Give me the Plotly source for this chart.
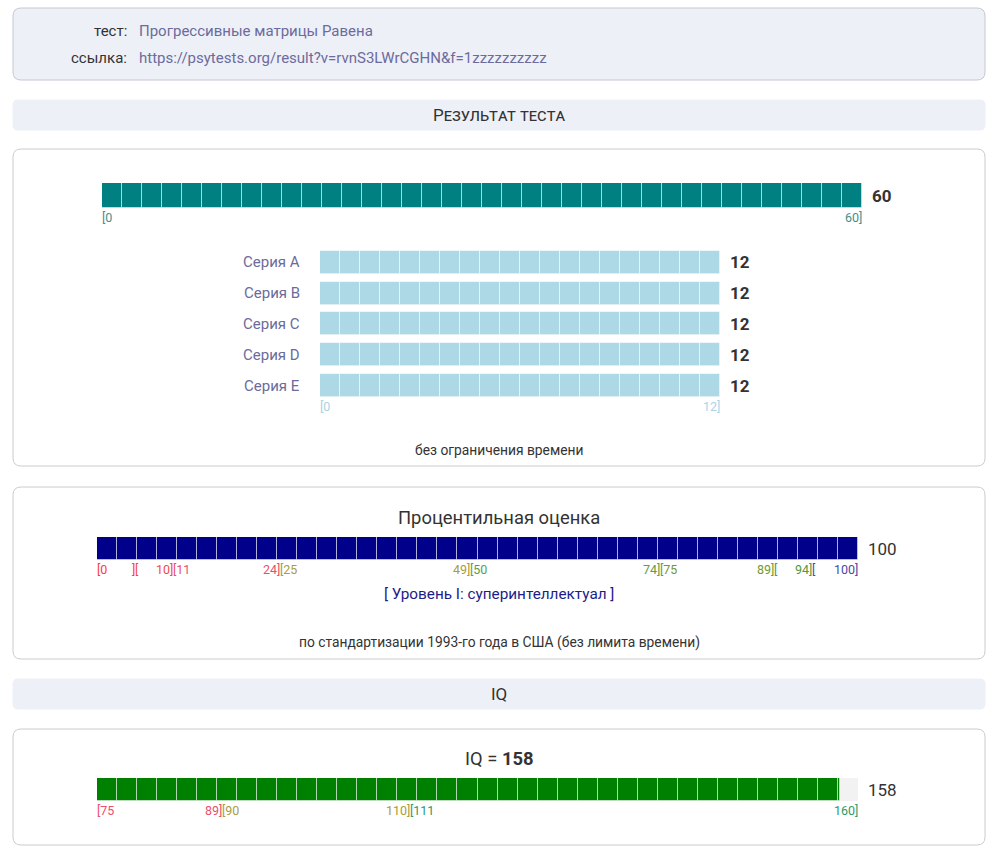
import numpy as np
import plotly.graph_objects as go

W, H = 1000, 861

# ---------------- data ----------------
test_name = "Прогрессивные матрицы Равена"
test_link = "https://psytests.org/result?v=rvnS3LWrCGHN&f=1zzzzzzzzzz"

total_score = 60
total_max = 60

series_names = ["Серия A", "Серия B", "Серия C", "Серия D", "Серия E"]
series_scores = [12, 12, 12, 12, 12]
series_max = 12

percentile = 100
pct_bounds = [0, 5, 10, 24, 49, 74, 89, 94, 100]
pct_left_labels = ["[0", "[", "[11", "[25", "[50", "[75", "[", "["]
pct_right_labels = ["]", "10]", "24]", "49]", "74]", "89]", "94]", "100]"]
pct_colors = ["#ff3b3b", "#f04a4a", "#e8506e", "#a89c3c", "#5a9e4a",
              "#6f9a2a", "#4e9a3a", "#4848a8"]
level_text = "[ Уровень I: суперинтеллектуал ]"

iq = 158
iq_bounds = [75, 89, 110, 160]
iq_left_labels = ["[75", "[90", "[111"]
iq_right_labels = ["89]", "110]", "160]"]
iq_colors = ["#e8506e", "#a89c3c", "#2e9a6a"]

# ---------------- helpers ----------------
FONT = "Roboto"
def px(x):
    return x / W
def py(y):
    return 1 - y / H

def rounded(x0, y0, x1, y1, r):
    X0, X1 = px(x0), px(x1)
    Y0, Y1 = py(y0), py(y1)
    rx, ry = r / W, r / H
    return (f"M {X0+rx},{Y0} L {X1-rx},{Y0} Q {X1},{Y0} {X1},{Y0-ry} "
            f"L {X1},{Y1+ry} Q {X1},{Y1} {X1-rx},{Y1} L {X0+rx},{Y1} "
            f"Q {X0},{Y1} {X0},{Y1+ry} L {X0},{Y0-ry} Q {X0},{Y0} {X0+rx},{Y0} Z")

fig = go.Figure()
shapes = []
ann = []

def panel(y0, y1, fill, line, r=8):
    shapes.append(dict(type="path", xref="paper", yref="paper",
                       path=rounded(13, y0, 985, y1, r),
                       fillcolor=fill, line=dict(color=line, width=1), layer="below"))

def text(x, y, s, size=14, color="#333333", xanchor="center", weight="normal", variant="normal"):
    ann.append(dict(x=px(x), y=py(y), xref="paper", yref="paper", text=s,
                    showarrow=False, xanchor=xanchor, yanchor="middle",
                    font=dict(family=FONT, size=size, color=color, weight=weight, variant=variant)))

# panels
panel(8, 80, "#eef0f8", "#c6c8d2")
panel(100, 130, "#eef0f8", "#eef0f8", r=5)
panel(149, 466, "#ffffff", "#cccccc")
panel(487, 659, "#ffffff", "#cccccc")
panel(679, 709, "#eef0f8", "#eef0f8", r=5)
panel(729, 845, "#ffffff", "#cccccc")

text(129, 31, "тест:", 15, "#333333", "right")
text(129, 58, "ссылка:", 15, "#333333", "right")
text(137, 31, test_name, 15, "#6b6b9c", "left")
text(137, 58, test_link, 15, "#6b6b9c", "left")
text(499, 115, "Результат теста", 17, "#333333", variant="small-caps")
text(499, 694, "IQ", 17, "#333333", variant="small-caps")
text(499, 450, "без ограничения времени", 13.8, "#333333")
text(499, 642, "по стандартизации 1993-го года в США (без лимита времени)", 13.8, "#333333")
text(499, 517, "Процентильная оценка", 18.4, "#333333")
text(499, 594, level_text, 15.3, "#1c1c8a")
text(499, 758, "IQ = <b>%d</b>" % iq, 18.4, "#333333")

CELL_LINE = dict(color="rgba(255,255,255,0.5)", width=1)
TICK_SIZE = 12.5

def cells(lo, hi, value, ncell):
    step = (hi - lo) / ncell
    starts = np.arange(lo, value - 1e-9, step)
    widths = np.minimum(step, value - starts)
    return starts, widths

def range_labels(xr, yr, ybottom, positions, lefts, rights, colors):
    for i in range(len(lefts)):
        ann.append(dict(x=positions[i], y=ybottom, xref=xr, yref=yr, text=lefts[i],
                        showarrow=False, xanchor="left", yanchor="top", xshift=-2, yshift=0,
                        font=dict(family=FONT, size=TICK_SIZE, color=colors[i])))
        ann.append(dict(x=positions[i + 1], y=ybottom, xref=xr, yref=yr, text=rights[i],
                        showarrow=False, xanchor="right", yanchor="top", xshift=2, yshift=0,
                        font=dict(family=FONT, size=TICK_SIZE, color=colors[i])))

def add_bar(idx, x0, x1, y0, y1, lo, hi, value, color, ncell=38):
    xa = "xaxis" if idx == 1 else f"xaxis{idx}"
    ya = "yaxis" if idx == 1 else f"yaxis{idx}"
    xr = "x" if idx == 1 else f"x{idx}"
    yr = "y" if idx == 1 else f"y{idx}"
    fig.add_trace(go.Bar(x=[hi - lo], base=[lo], y=[0], orientation="h", width=1,
                         marker=dict(color="#f2f2f2", line=dict(width=0)),
                         xaxis=xr, yaxis=yr, hoverinfo="skip", showlegend=False))
    s, w = cells(lo, hi, value, ncell)
    fig.add_trace(go.Bar(x=w, base=s, y=[0] * len(s), orientation="h", width=1,
                         marker=dict(color=color, line=CELL_LINE),
                         xaxis=xr, yaxis=yr, hoverinfo="skip", showlegend=False))
    fig.update_layout(**{
        xa: dict(domain=[px(x0), px(x1)], range=[lo, hi], visible=False, fixedrange=True, anchor=yr),
        ya: dict(domain=[py(y1), py(y0)], range=[-0.5, 0.5], visible=False, fixedrange=True, anchor=xr),
    })
    return xr, yr

# total bar
xr, yr = add_bar(1, 102, 862, 183, 208, 0, total_max, total_score, "#008080")
ann.append(dict(x=total_score, y=0, xref=xr, yref=yr, text="<b>%d</b>" % total_score,
                showarrow=False, xanchor="left", xshift=8, font=dict(family=FONT, size=17, color="#333333")))
range_labels(xr, yr, -0.5, [0, total_max], ["[0"], ["%d]" % total_max], ["#3f8f8f"])

# series bars
sx, sy = "x2", "y2"
for i, (name, val) in enumerate(zip(series_names, series_scores)):
    fig.add_trace(go.Bar(x=[series_max], base=[0], y=[name], orientation="h", width=0.75,
                         marker=dict(color="#f2f2f2", line=dict(width=0)),
                         xaxis=sx, yaxis=sy, hoverinfo="skip", showlegend=False))
    s, w = cells(0, series_max, val, 20)
    fig.add_trace(go.Bar(x=w, base=s, y=[name] * len(s), orientation="h", width=0.75,
                         marker=dict(color="#add8e6", line=CELL_LINE),
                         xaxis=sx, yaxis=sy, hoverinfo="skip", showlegend=False))
    ann.append(dict(x=0, y=name, xref=sx, yref=sy, text=name, showarrow=False, xanchor="right",
                    xshift=-18, font=dict(family=FONT, size=15, color="#6b6b9c")))
    ann.append(dict(x=series_max, y=name, xref=sx, yref=sy, text="<b>%d</b>" % val, showarrow=False,
                    xanchor="left", xshift=8, font=dict(family=FONT, size=17, color="#333333")))
fig.update_layout(
    xaxis2=dict(domain=[px(320), px(720)], range=[0, series_max], visible=False, fixedrange=True, anchor="y2"),
    yaxis2=dict(domain=[py(401), py(247.1)], type="category", categoryorder="array",
                categoryarray=series_names, range=[4.5, -0.5], visible=False, fixedrange=True, anchor="x2"),
)
range_labels(sx, sy, 4.375, [0, series_max], ["[0"], ["%d]" % series_max], ["#a8d4e8"])

# percentile bar
xr, yr = add_bar(3, 97, 858, 537, 560, 0, 100, percentile, "#00008b")
ann.append(dict(x=100, y=0, xref=xr, yref=yr, text="%d" % percentile, showarrow=False,
                xanchor="left", xshift=8, font=dict(family=FONT, size=17, color="#333333")))
range_labels(xr, yr, -0.5, pct_bounds, pct_left_labels, pct_right_labels, pct_colors)

# IQ bar
xr, yr = add_bar(4, 97, 858, 778, 801, iq_bounds[0], iq_bounds[-1], iq, "#008000")
ann.append(dict(x=iq_bounds[-1], y=0, xref=xr, yref=yr, text="%d" % iq, showarrow=False,
                xanchor="left", xshift=8, font=dict(family=FONT, size=17, color="#333333")))
range_labels(xr, yr, -0.5, iq_bounds, iq_left_labels, iq_right_labels, iq_colors)

fig.update_layout(
    width=W, height=H, margin=dict(l=0, r=0, t=0, b=0),
    paper_bgcolor="#ffffff", plot_bgcolor="rgba(0,0,0,0)",
    barmode="overlay", bargap=0, showlegend=False,
    shapes=shapes, annotations=ann,
    font=dict(family=FONT),
)
fig.write_html("out.html", config={"displayModeBar": False})
